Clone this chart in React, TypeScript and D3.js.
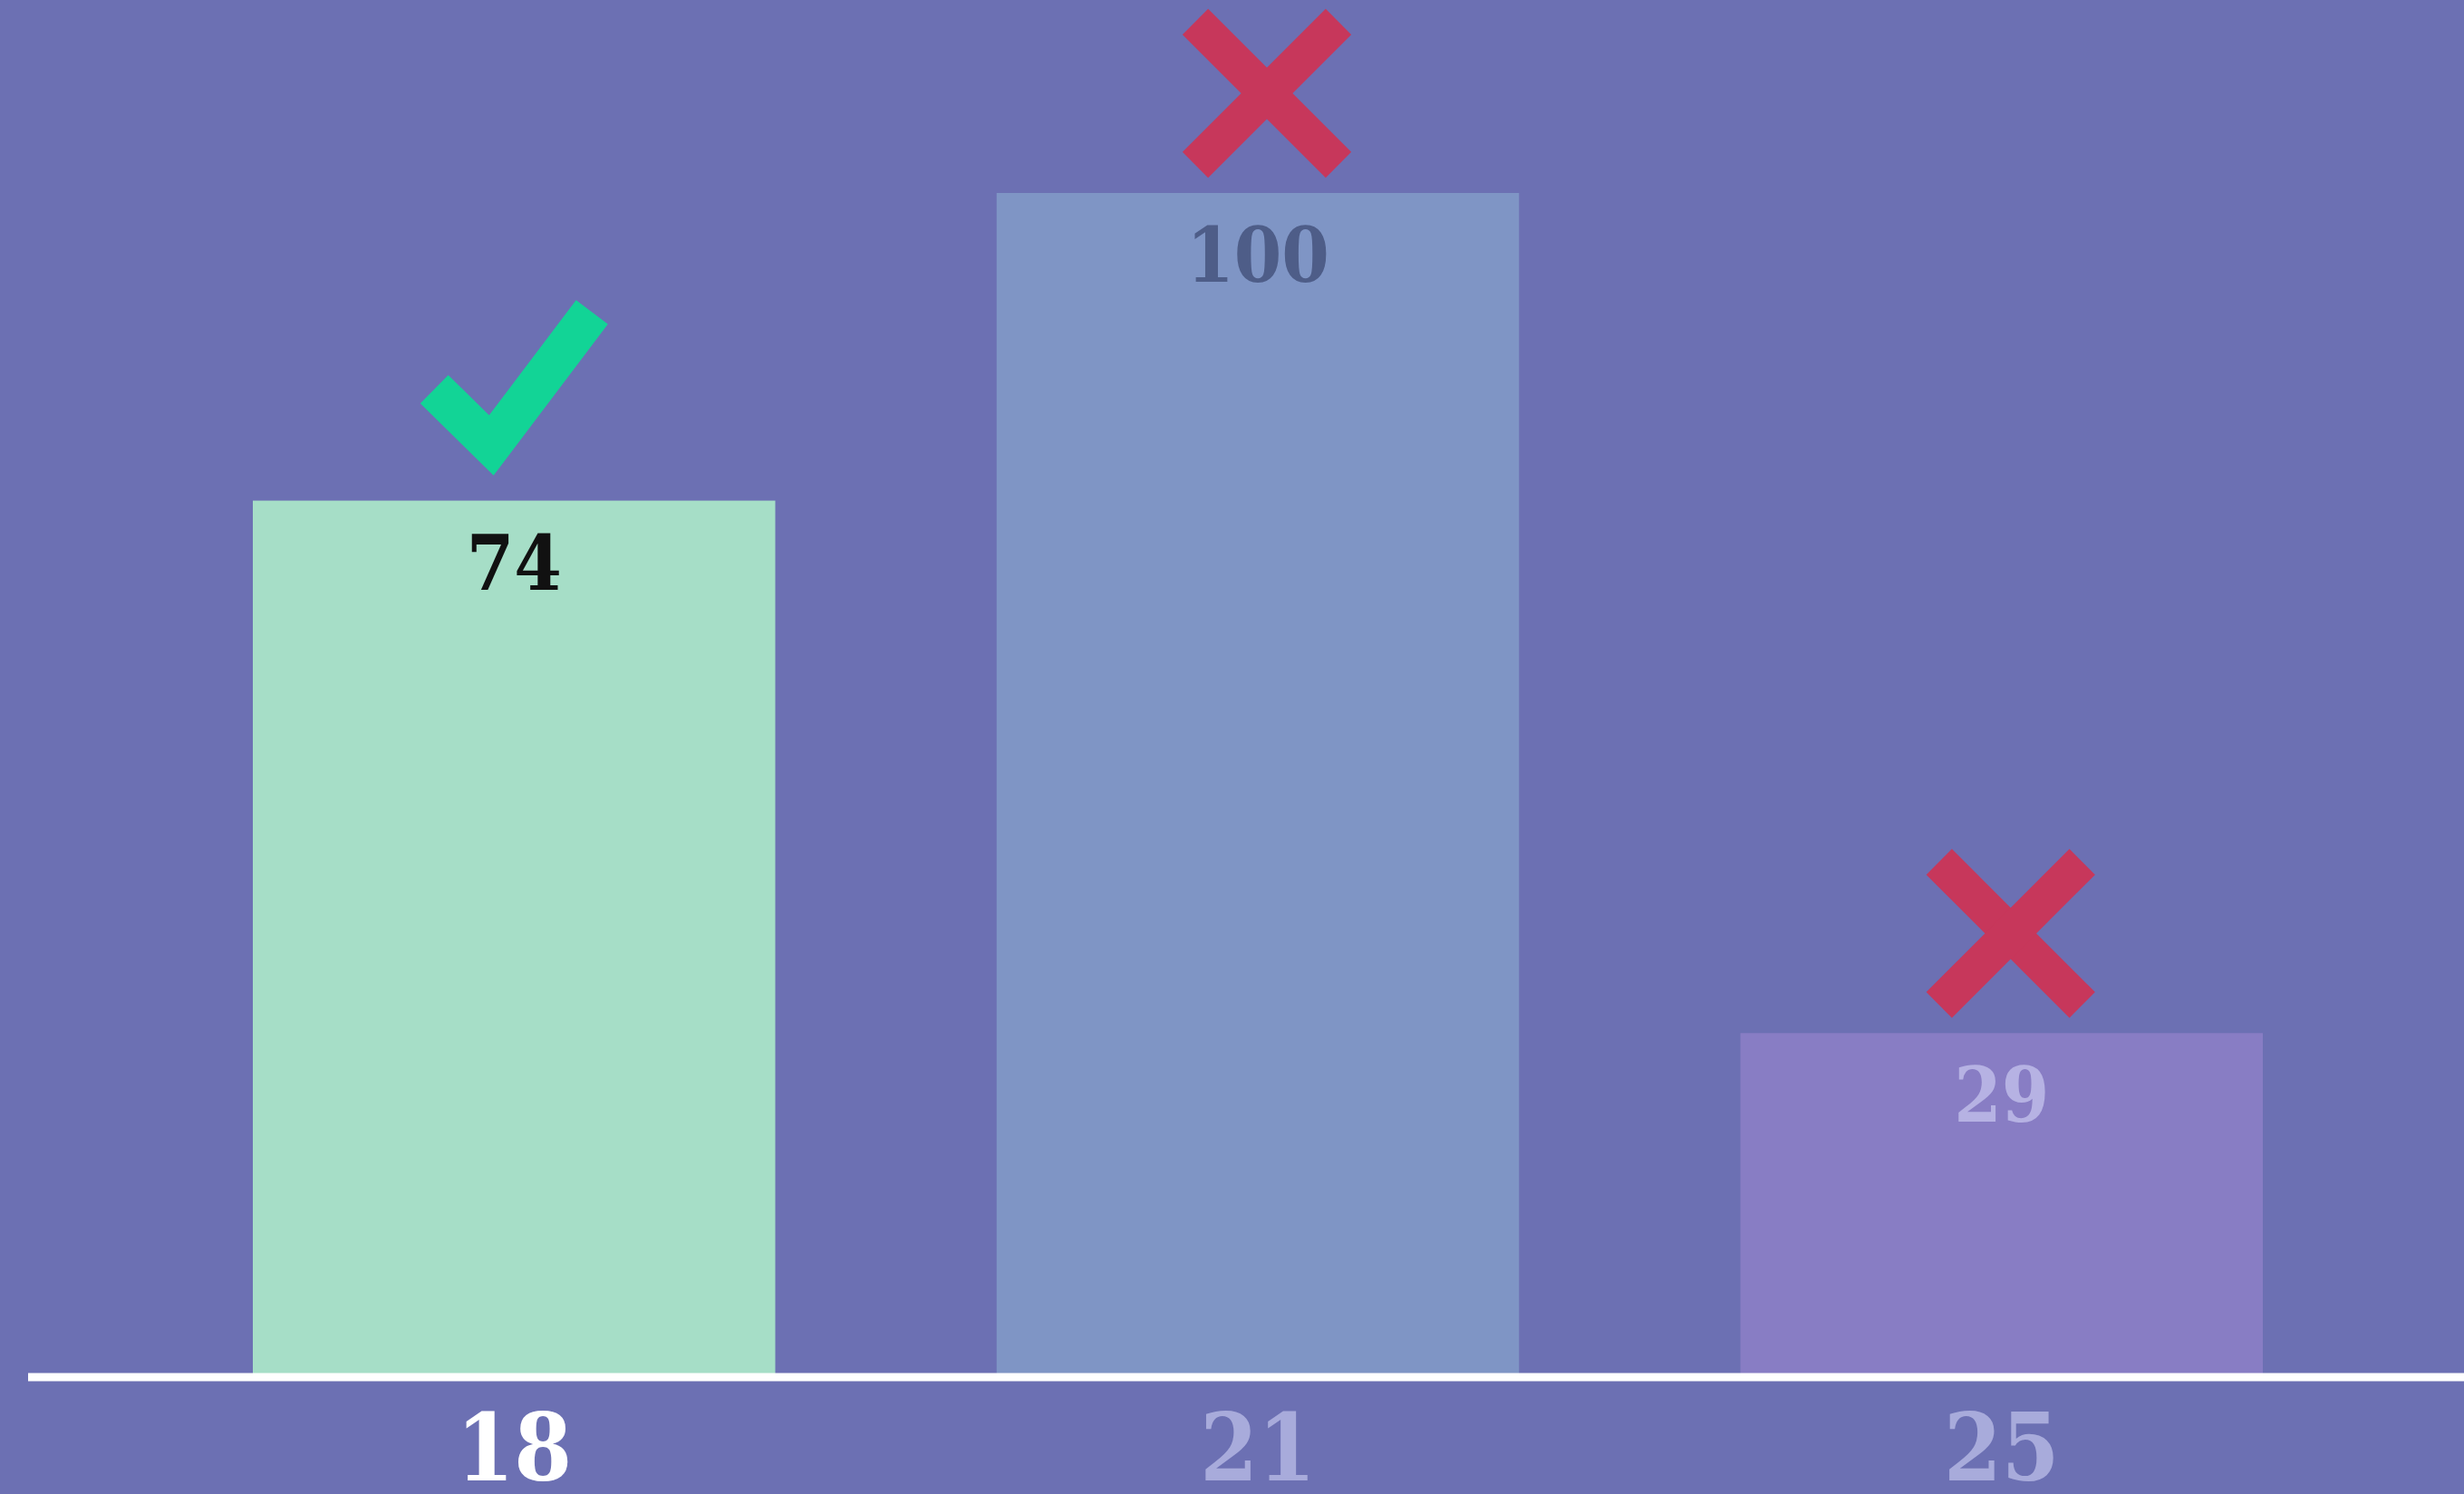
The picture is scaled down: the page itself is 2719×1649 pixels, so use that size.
import { useEffect } from "react";
import { scaleBand, scaleLinear, line } from "d3";

const W = 2719;
const H = 1649;

const ages = ["18", "21", "25"];
const scores = [74, 100, 29];
const verdicts = ["right", "wrong", "wrong"];

const barColors = ["#a6dec7", "#7f95c5", "#887dc4"];
const valueColors = ["#111111", "#4e5d88", "#b6b2e3"];
const tickColors = ["#ffffff", "#a8abdb", "#a8abdb"];

const bg = "#6c70b3";
const green = "#12d496";
const red = "#c7375b";
const font = "'DejaVu Serif Condensed', 'DejaVu Serif', serif";

const x = scaleBand<string>().domain(ages).range([279, 2497]).paddingInner(0.2976);
const y = scaleLinear().domain([0, 100]).range([1519, 213]);

const tick = line<[number, number]>();

function Check({ cx, top }: { cx: number; top: number }) {
  const pts: [number, number][] = [
    [cx - 88, top - 123],
    [cx - 25, top - 61],
    [cx + 86, top - 208],
  ];
  return (
    <path
      d={tick(pts) ?? ""}
      fill="none"
      stroke={green}
      strokeWidth={44}
      strokeLinejoin="miter"
      strokeLinecap="butt"
    />
  );
}

function Cross({ cx, top }: { cx: number; top: number }) {
  const c = [cx + 10, top - 110];
  const a = 79;
  return (
    <g stroke={red} strokeWidth={40} strokeLinecap="butt">
      <line x1={c[0] - a} y1={c[1] - a} x2={c[0] + a} y2={c[1] + a} />
      <line x1={c[0] - a} y1={c[1] + a} x2={c[0] + a} y2={c[1] - a} />
    </g>
  );
}

export default function App() {
  useEffect(() => {
    document.body.style.margin = "0";
    document.body.style.background = bg;
  }, []);

  return (
    <svg width={W} height={H} style={{ display: "block" }}>
      <rect width={W} height={H} fill={bg} />

      {ages.map((age, i) => {
        const bx = x(age) ?? 0;
        const top = y(scores[i]);
        const cx = bx + x.bandwidth() / 2;
        return (
          <g key={age}>
            <rect x={bx} y={top} width={x.bandwidth()} height={y(0) - top} fill={barColors[i]} />
            <text
              x={cx}
              y={top + 98}
              textAnchor="middle"
              fontFamily={font}
              fontWeight="bold"
              fontStretch="condensed"
              fontSize={84}
              fill={valueColors[i]}
            >
              {scores[i]}
            </text>
            {verdicts[i] === "right" ? <Check cx={cx} top={top} /> : <Cross cx={cx} top={top} />}
          </g>
        );
      })}

      <line x1={31} x2={W} y1={y(0) + 1} y2={y(0) + 1} stroke="#ffffff" strokeWidth={9} />

      {ages.map((age, i) => (
        <text
          key={age}
          x={(x(age) ?? 0) + x.bandwidth() / 2}
          y={1634}
          textAnchor="middle"
          fontFamily={font}
          fontWeight="bold"
          fontStretch="condensed"
          fontSize={102}
          fill={tickColors[i]}
        >
          {age}
        </text>
      ))}
    </svg>
  );
}
